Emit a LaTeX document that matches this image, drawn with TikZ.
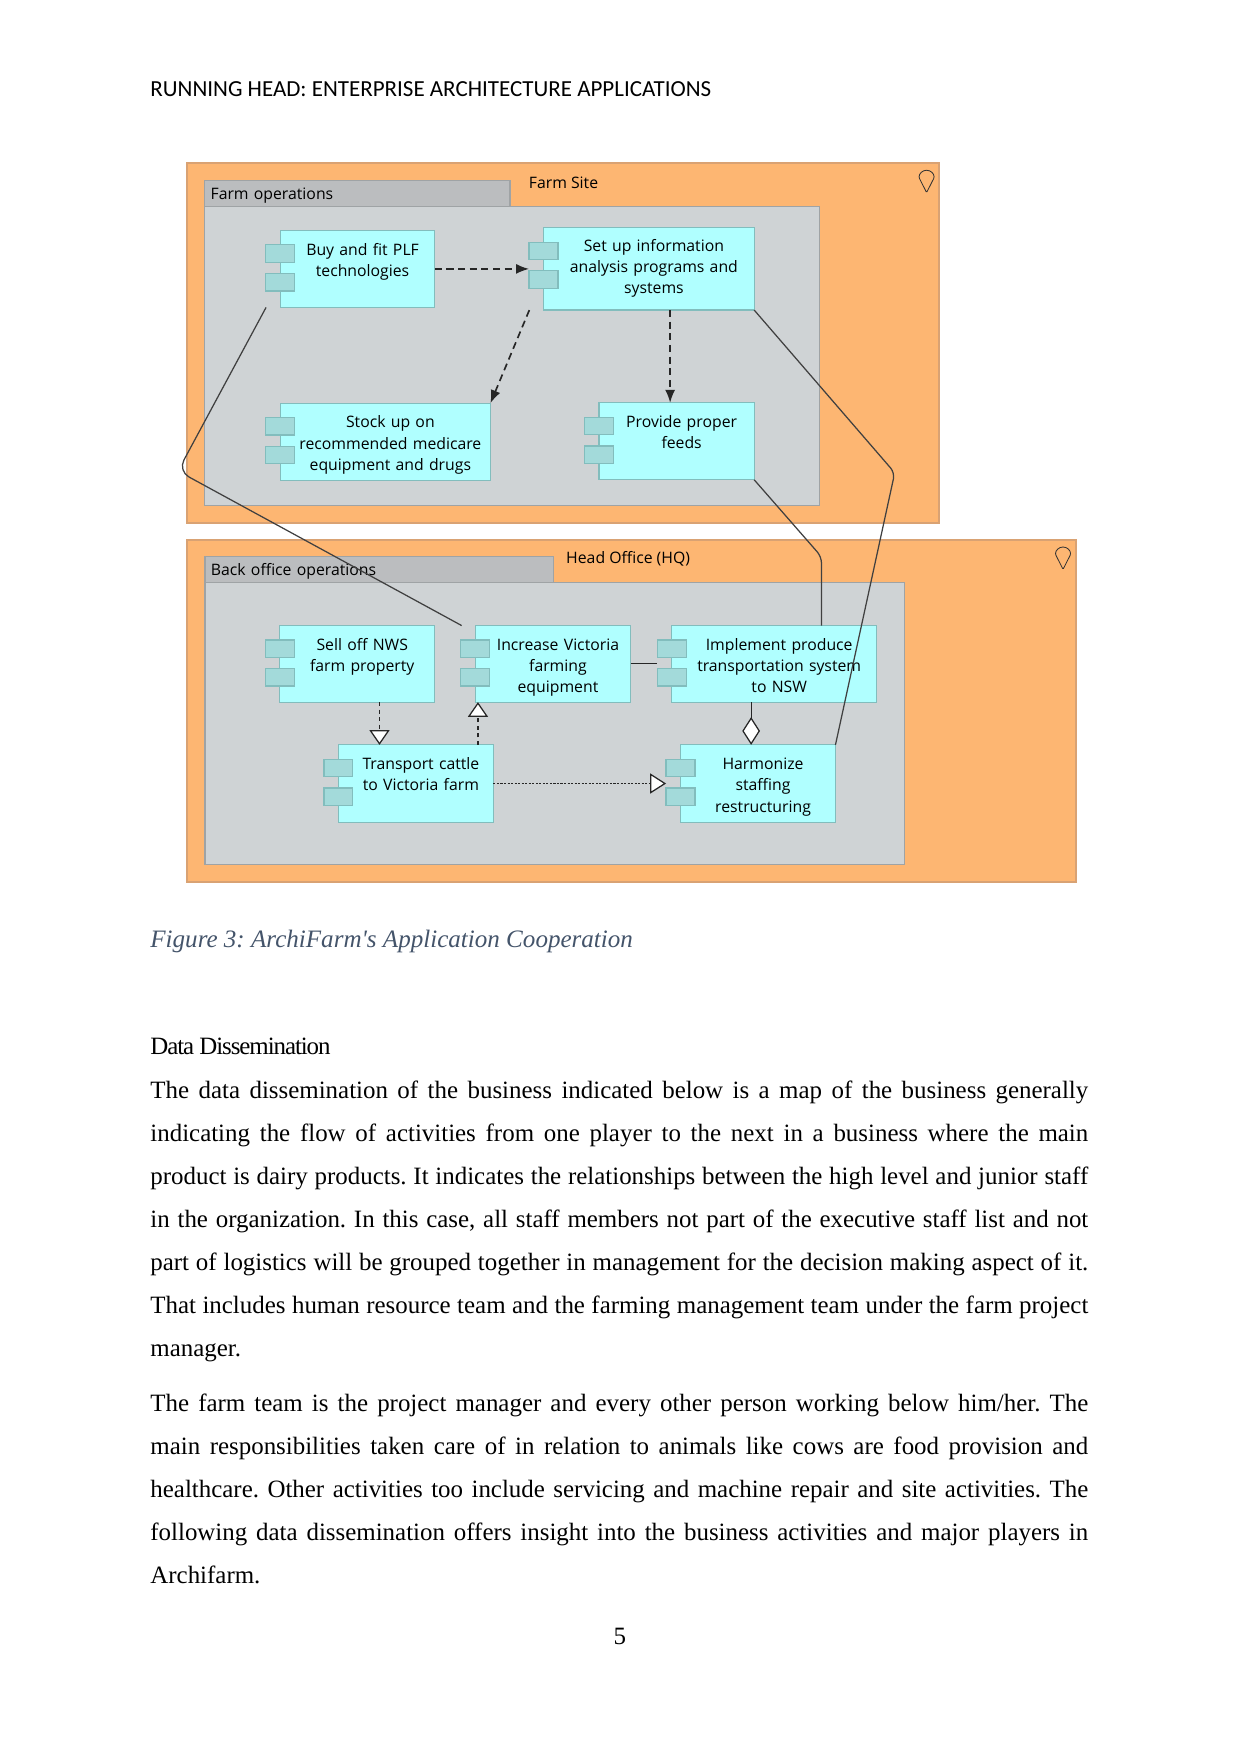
\documentclass[tikz,border=0pt]{standalone}
\usepackage{fontspec}
\setmainfont{Liberation Serif}
\setsansfont{Open Sans}
\newfontfamily\headerfont{Carlito}
\newfontfamily\captionfont{Liberation Serif}
\usetikzlibrary{arrows.meta}
\usetikzlibrary{positioning}
\definecolor{site_orange}{HTML}{FDB672}
\definecolor{site_border}{HTML}{D9A273}
\definecolor{area_grey}{HTML}{CFD3D5}
\definecolor{area_border}{HTML}{9FA3A5}
\definecolor{tab_grey}{HTML}{BBBDBF}
\definecolor{app_fill}{HTML}{B0FFFF}
\definecolor{app_tab}{HTML}{A3DADA}
\definecolor{app_border}{HTML}{82BDBD}
\definecolor{caption_blue}{HTML}{44546A}

\begin{document}
\begin{tikzpicture}[
            node distance=0.5cm and 0.5cm,
            site/.style={rectangle, draw=site_border, fill=site_orange, thick, inner sep=0pt, outer sep=0pt},
            area/.style={rectangle, draw=area_border, fill=area_grey, semithick, inner sep=0pt, outer sep=0pt},
            area_tab/.style={rectangle, draw=area_border, fill=tab_grey, semithick, inner xsep=0.1cm, inner ysep=0pt, outer sep=0pt, text width=#1-0.2cm, text depth=0pt, minimum height=0.43cm, align=left, font=\sffamily\fontsize{7.6}{9}\selectfont},
            site_label/.style={inner sep=0pt, outer sep=0pt, anchor=west, yshift=-0.03cm, font=\sffamily\fontsize{7.6}{9}\selectfont},
            app/.style={rectangle, draw=app_border, fill=app_fill, semithick, inner sep=0pt, outer sep=0pt, text width=#1, align=center, execute at begin node={\vskip0pt\advance\leftskip by 0.17cm\strut}, execute at end node={\strut}, font=\sffamily\fontsize{7.6}{10.25}\selectfont},
            app_port/.style={rectangle, draw=app_border, fill=app_tab, semithick, inner sep=0pt, outer sep=0pt, minimum width=0.49cm, minimum height=0.295cm},
            pin/.style={draw=black!80, thin, fill=site_orange, rounded corners=0.5pt},
            flow_arrow/.style={-{Latex[length=2.2mm, width=1.7mm]}, thick, black!85, dash pattern=on 3.4pt off 2.2pt},
            realize_arrow/.style={-{Triangle[open, fill=white, length=2.5mm, width=3.4mm]}, semithick, black!85, dash pattern=on 2pt off 1.6pt},
            trigger_arrow/.style={-{Triangle[open, fill=white, length=2.7mm, width=3.4mm]}, semithick, black!85, dash pattern=on 1pt off 0.7pt},
            aggregate/.style={-{Diamond[open, fill=white, length=4.7mm, width=3mm]}, semithick, black!85},
            relation/.style={semithick, black!75, rounded corners=3pt},
            body_text/.style={inner sep=0pt, anchor=north west, text width=15.87cm, align=justify, font=\frenchspacing\fontsize{12}{20.76}\selectfont}
        ]
        \useasboundingbox (0,0) rectangle (21,-29.68);

        % Page text above the figure
        \node[inner sep=0pt, anchor=base west, font=\headerfont\fontsize{11.07}{14}\selectfont] (page_header) at (2.538,-1.64) {RUNNING HEAD: ENTERPRISE ARCHITECTURE APPLICATIONS};

        % Farm Site
        \node[site, anchor=north west, minimum width=12.725cm, minimum height=6.082cm] (farm_site) at (3.164,-2.763) {};
        \node[area_tab=5.166cm, below right=0.295cm and 0.3cm of farm_site.north west] (farm_tab) {Farm operations};
        \node[area, below right=0cm and 0cm of farm_tab.south west, minimum width=10.404cm, minimum height=5.065cm] (farm_area) {};
        \node[site_label, right=0.32cm of farm_tab.north east] (farm_label) {Farm Site};

        % Head Office
        \node[site, below right=0.288cm and 0cm of farm_site.south west, minimum width=15.044cm, minimum height=5.792cm] (head_site) {};
        \node[area_tab=5.902cm, below right=0.288cm and 0.305cm of head_site.north west] (head_tab) {Back office operations};
        \node[area, below right=0cm and 0cm of head_tab.south west, minimum width=11.84cm, minimum height=4.772cm] (head_area) {};
        \node[site_label, right=0.21cm of head_tab.north east] (head_label) {Head Office (HQ)};

        % Location pins
        \coordinate[below left=0.495cm and 0.21cm of farm_site.north east] (farm_pin);
        \coordinate[below left=0.5cm and 0.22cm of head_site.north east] (head_pin);
        \draw[pin] (farm_pin) -- ++(-0.127,0.25) arc[start angle=180, end angle=0, radius=0.127] -- cycle;
        \draw[pin] (head_pin) -- ++(-0.127,0.25) arc[start angle=180, end angle=0, radius=0.127] -- cycle;

        % Farm operations applications
        \node[app=2.616cm, minimum height=1.303cm, below right=0.411cm and 1.278cm of farm_area.north west] (buy) {Buy and fit PLF\\technologies\\};
        \node[app=3.565cm, minimum height=1.393cm, right=1.839cm of buy, text depth=37.6pt] (setup) {Set up information\\analysis programs and\\systems};
        \node[app=3.557cm, minimum height=1.303cm, below right=1.62cm and 0cm of buy.south west] (stock) {Stock up on\\recommended medicare\\equipment and drugs};
        \node[app=2.626cm, minimum height=1.303cm, below left=1.569cm and 0cm of setup.south east] (provide) {Provide proper\\feeds\\};

        % Back office applications
        \node[app=2.623cm, minimum height=1.296cm, below right=0.734cm and 1.264cm of head_area.north west] (sell) {Sell off NWS\\farm property\\};
        \node[app=2.631cm, minimum height=1.296cm, right=0.685cm of sell] (increase) {Increase Victoria\\farming\\equipment};
        \node[app=3.466cm, minimum height=1.296cm, right=0.695cm of increase] (implement) {Implement produce\\transportation system\\to NSW};
        \node[app=2.623cm, minimum height=1.308cm, below right=0.723cm and 0.993cm of sell.south west] (transport) {Transport cattle\\to Victoria farm\\};
        \node[app=2.621cm, minimum height=1.308cm, below right=0.723cm and 0.149cm of implement.south west] (harmonize) {Harmonize\\staffing\\restructuring};

        % Ports on the left edge of each application
        \foreach \name in {buy, setup, stock, provide, sell, increase, implement, transport, harmonize} {
            \node[app_port, below=0.244cm of \name.north west] (\name_port_a) {};
            \node[app_port, below=0.19cm of \name_port_a] (\name_port_b) {};
        }

        % Free ends and bends
        \coordinate[left=0.24cm of buy.south west] (buy_corner);
        \coordinate[left=0.23cm of increase.north west] (increase_corner);
        \coordinate[left=0.24cm of setup.south west] (setup_corner);
        \coordinate (west_bend) at (3.012,-7.97);
        \coordinate (east_bend) at (15.14,-8.0);
        \coordinate (middle_bend) at (13.9,-9.42);

        % Arrows in Farm operations
        \draw[flow_arrow] (buy.east) -- (buy.east -| setup_port_a.west);
        \draw[flow_arrow] (setup_corner) -- (stock.north east);
        \draw[flow_arrow] ([xshift=0.36cm]setup.south) -- ([xshift=0.36cm]setup.south |- provide.north);

        % Arrows in Back office operations
        \draw[realize_arrow] ([xshift=0.377cm]sell.south) -- ([xshift=0.377cm]sell.south |- transport.north);
        \draw[realize_arrow] ([xshift=1.05cm]transport.north) -- ([xshift=1.05cm]transport.north |- increase.south);
        \draw[trigger_arrow] (transport.east) -- (transport.east -| harmonize_port_a.west);
        \draw[aggregate] ([xshift=-0.39cm]implement.south) -- ([xshift=-0.39cm]implement.south |- harmonize.north);
        \draw[semithick, black!85] (increase.east) -- (increase.east -| implement_port_a.west);

        % Lines between the two sites
        \draw[relation, rounded corners=6pt] (buy_corner) -- (west_bend) -- (increase_corner);
        \draw[relation] (setup.south east) -- (east_bend) -- (harmonize.north east);
        \draw[relation] (provide.south east) -- (middle_bend) -- (middle_bend |- implement.north);

        % Page text below the figure
        \node[inner sep=0pt, anchor=base west, text=caption_blue, font=\captionfont\frenchspacing\itshape\fontsize{12.07}{14}\selectfont] (figure_caption) at (2.538,-16.04) {Figure 3: ArchiFarm's Application Cooperation};
        \node[inner sep=0pt, anchor=base west, font=\fontsize{12}{14}\selectfont\addfontfeature{LetterSpace=-4.3}] (data_heading) at (2.538,-17.85) {Data Dissemination};
        \node[body_text] (first_paragraph) at (2.538,-18.28) {The data dissemination of the business indicated below is a map of the business generally\linebreak
            indicating the flow of activities from one player to the next in a business where the main\linebreak
            product is dairy products. It indicates the relationships between the high level and junior staff\linebreak
            in the organization. In this case, all staff members not part of the executive staff list and not\linebreak
            part of logistics will be grouped together in management for the decision making aspect of it.\linebreak
            That includes human resource team and the farming management team under the farm project\linebreak
            manager.};
        \node[body_text] (second_paragraph) at (2.538,-23.58) {The farm team is the project manager and every other person working below him/her. The\linebreak
            main responsibilities taken care of in relation to animals like cows are food provision and\linebreak
            healthcare. Other activities too include servicing and machine repair and site activities. The\linebreak
            following data dissemination offers insight into the business activities and major players in\linebreak
            Archifarm.};
        \node[inner sep=0pt, anchor=base, font=\fontsize{12}{14}\selectfont] (page_number) at (10.49,-27.83) {5};

    \end{tikzpicture}
\end{document}
